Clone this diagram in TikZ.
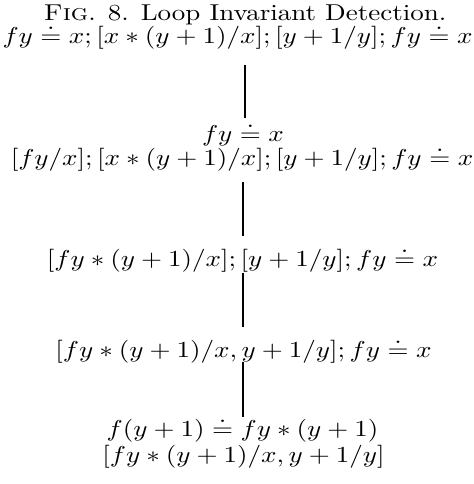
\documentclass[tikz,border=0pt]{standalone}
\newcommand{\vsq}[1]{\scalebox{1}[0.85]{#1}}
\begin{document}
\begin{tikzpicture}[x=0.37pt,y=-0.37pt,
  txt/.style={inner sep=0pt,anchor=base},
  conn/.style={line width=0.75pt}]
\useasboundingbox (0,0) rectangle (474,484);
\node[txt] (title) at (245,20) {\vsq{\textsc{Fig}. 8. Loop Invariant Detection.}};
\node[txt] (l1) at (237.5,43) {\vsq{$fy \doteq x; [x*(y+1)/x]; [y+1/y]; fy \doteq x$}};
\node[txt] (l2a) at (243,141) {\vsq{$fy \doteq x$}};
\node[txt] (l2) at (242,165) {\vsq{$[fy/x]; [x*(y+1)/x]; [y+1/y]; fy \doteq x$}};
\node[txt] (l3) at (242.5,266) {\vsq{$[fy*(y+1)/x]; [y+1/y]; fy \doteq x$}};
\node[txt] (l4) at (243.5,357) {\vsq{$[fy*(y+1)/x, y+1/y]; fy \doteq x$}};
\node[txt] (l5a) at (242.5,436) {\vsq{$f(y+1) \doteq fy*(y+1)$}};
\node[txt] (l5) at (243.5,462) {\vsq{$[fy*(y+1)/x, y+1/y]$}};
\coordinate (c1a) at (245,65); \coordinate (c1b) at (245,118);
\coordinate (c2a) at (243,182); \coordinate (c2b) at (243,236);
\coordinate (c3a) at (243,273); \coordinate (c3b) at (243,327);
\coordinate (c4a) at (243,362); \coordinate (c4b) at (243,417);
\draw[conn] (c1a) -- (c1b);
\draw[conn] (c2a) -- (c2b);
\draw[conn] (c3a) -- (c3b);
\draw[conn] (c4a) -- (c4b);
\end{tikzpicture}
\end{document}
